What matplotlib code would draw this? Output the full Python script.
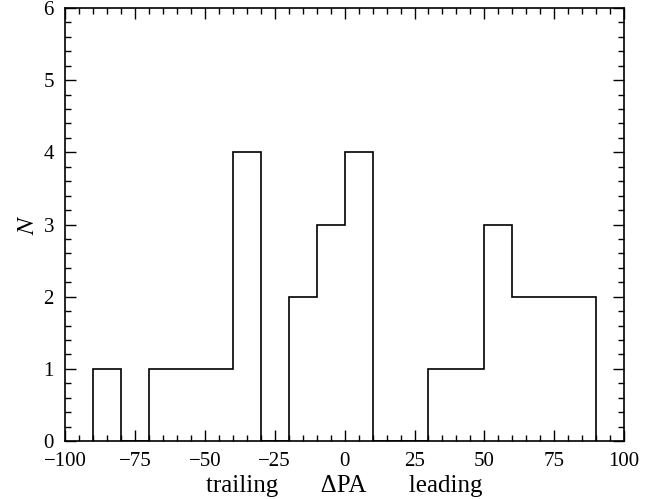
import numpy as np
import matplotlib
matplotlib.use("Agg")
import matplotlib.pyplot as plt
from matplotlib.ticker import MultipleLocator

# histogram of position angle offsets, 10 deg bins
bin_edges = [-90, -80, -70, -60, -50, -40, -30, -20, -10, 0,
             10, 20, 30, 40, 50, 60, 70, 80, 90]
counts = [1, 0, 1, 1, 1, 4, 0, 2, 3, 4, 0, 0, 1, 1, 3, 2, 2, 2]

plt.rcParams["font.family"] = ["Liberation Serif", "DejaVu Serif"]
plt.rcParams["mathtext.fontset"] = "stix"

fig = plt.figure(figsize=(6.64, 4.99), dpi=100)
ax = fig.add_axes([0.098, 0.116, 0.842, 0.868])

ax.stairs(counts, bin_edges, baseline=0, fill=False, color="black", linewidth=1.2)

ax.set_xlim(-100, 100)
ax.set_ylim(0, 6)
ax.xaxis.set_major_locator(MultipleLocator(25))
ax.xaxis.set_minor_locator(MultipleLocator(5))
ax.yaxis.set_major_locator(MultipleLocator(1))
ax.yaxis.set_minor_locator(MultipleLocator(0.2))
ax.tick_params(which="both", direction="in", top=True, right=True, labelsize=15)
ax.tick_params(which="major", length=8, width=1, pad=8)
ax.tick_params(which="minor", length=4, width=1)
for s in ax.spines.values():
    s.set_linewidth(1.2)

ax.set_xlabel("trailing       ΔPA       leading", fontsize=18, labelpad=3)
ax.set_ylabel("$N$", fontsize=18, labelpad=3)

fig.savefig("out.png", dpi=100)
